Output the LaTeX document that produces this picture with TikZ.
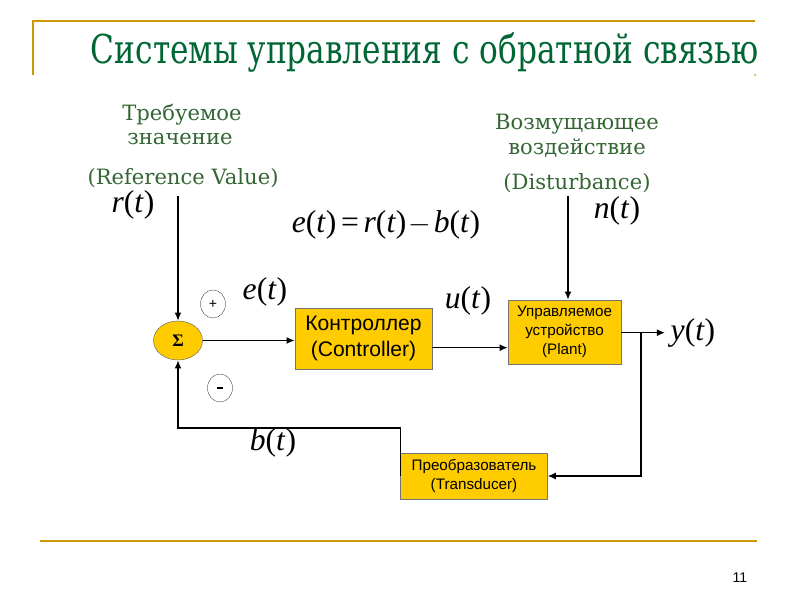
\documentclass[tikz,border=0pt]{standalone}
\usepackage{fontspec}
\setmainfont{Liberation Serif}
\setsansfont{Liberation Sans}
\newfontfamily\titlefont{DejaVu Serif Condensed}
\newfontfamily\labelfont{DejaVu Serif}
\usetikzlibrary{arrows.meta,shapes.geometric}
\definecolor{framegold}{RGB}{204,153,0}
\definecolor{titlegreen}{RGB}{0,102,51}
\definecolor{labelgreen}{RGB}{51,102,51}
\definecolor{blockfill}{RGB}{255,204,0}
\newcommand{\sig}[1]{\textit{#1}(\textit{t})}
\begin{document}
\begin{tikzpicture}[x=0.03cm,y=-0.03cm,
    block/.style={draw=black!55,fill=blockfill,font=\sffamily,align=center,inner sep=0pt},
    signal/.style={anchor=base,font=\fontsize{27}{27}\selectfont},
    note/.style={anchor=base,text=labelgreen,font=\labelfont\fontsize{18}{18}\selectfont},
    sign/.style={ellipse,draw,very thin,minimum width=0.75cm,minimum height=0.84cm,inner sep=0pt,font=\sffamily\fontsize{12}{12}\selectfont},
    arr/.style={-{Latex[length=7pt,width=6pt]},line width=1.3pt}]
    \useasboundingbox (0,0) rectangle (800,600);
    % frame
    \draw[framegold,line width=2pt] (33,75) -- (33,21) -- (755,21);
    \fill[framegold] (755,75) circle (1);
    \draw[framegold,line width=2.5pt] (40,541) -- (757,541);
    \node[anchor=base,text=titlegreen,font=\titlefont\fontsize{34}{34}\selectfont] (title) at (425,64) {\scalebox{0.87}[1]{Системы управления с обратной связью}};
    \node[anchor=base,font=\sffamily\fontsize{12}{12}\selectfont] (pagenum) at (740,583) {11};
    % texts
    \node[note] (ref1) at (182,121) {Требуемое};
    \node[note] (ref2) at (180,145) {значение};
    \node[note] (ref3) at (183,185) {(Reference Value)};
    \node[note] (dist1) at (577,130) {Возмущающее};
    \node[note] (dist2) at (577,155) {воздействие};
    \node[note] (dist3) at (577,190) {(Disturbance)};
    % blocks
    \node[ellipse,draw=black!60,fill=blockfill,minimum width=1.47cm,minimum height=1.17cm,inner sep=0pt,font=\fontsize{15}{15}\selectfont] (sum) at (178,340.5) {\textbf{Σ}};
    \node[sign] (plus) at (213,304) {+};
    \node[sign] (minus) at (220,388) {\rule{5.5pt}{2pt}};
    \node[block,minimum width=4.11cm,minimum height=1.83cm,font=\sffamily\fontsize{18}{22}\selectfont] (ctrl) at (363.5,338.5) {Контроллер\\(Controller)};
    \node[block,minimum width=3.39cm,minimum height=1.92cm,font=\sffamily\fontsize{13}{16}\selectfont] (plant) at (564.5,332) {Управляемое\\устройство\\(Plant)};
    \node[block,minimum width=4.4cm,minimum height=1.38cm,font=\sffamily\fontsize{13}{16}\selectfont] (trans) at (474,476) {Преобразователь\\(Transducer)};
    % signals
    \node[signal] (rsig) at (133,213) {\sig{r}};
    \node[signal] (nsig) at (617,219) {\sig{n}};
    \node[signal] (esig) at (265,300) {\sig{e}};
    \node[signal] (usig) at (468,309) {\sig{u}};
    \node[signal] (ysig) at (693,341) {\sig{y}};
    \node[signal] (bsig) at (273,451) {\sig{b}};
    \node[signal] (eqn) at (386,233) {\sig{e}\kern4pt=\kern4pt\sig{r}\kern2pt$-$\kern2pt\sig{b}};
    % connectors
    \coordinate (rin) at (178,196);
    \coordinate (nin) at (568,196);
    \coordinate (yout) at (665,332.7);
    \coordinate (branch) at (641,332.7);
    \coordinate (fb) at (178,428);
    \coordinate (uout) at (432,347.7);
    \draw[arr] (rin) -- (sum.north);
    \draw[arr] (nin) -- (nin |- plant.north);
    \draw[arr] (sum.east) -- (sum.east -| ctrl.west);
    \draw[arr] (uout) -- (uout -| plant.west);
    \draw[arr] (plant.east |- yout) -- (yout);
    \draw[arr] (branch) |- (trans.east);
    \draw[arr] (trans.west) |- (fb) -- (sum.south);
\end{tikzpicture}
\end{document}
